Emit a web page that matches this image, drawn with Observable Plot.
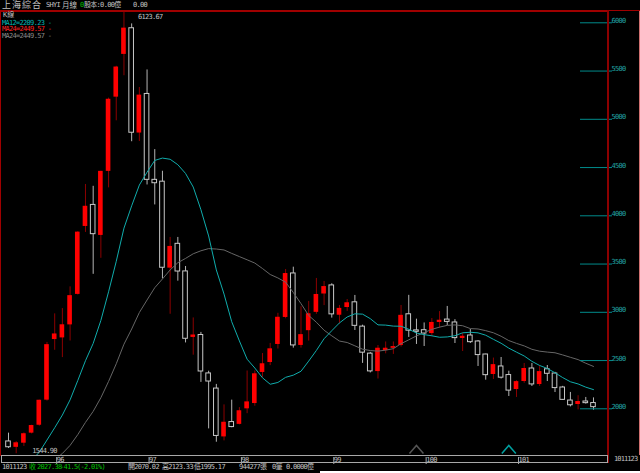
<!DOCTYPE html>
<html><head><meta charset="utf-8">
<script src="https://cdn.jsdelivr.net/npm/d3@7"></script>
<script src="https://cdn.jsdelivr.net/npm/@observablehq/plot@0.6"></script>
<style>
html,body{margin:0;padding:0;background:#000;width:640px;height:473px;overflow:hidden}
#wrap{position:relative;width:640px;height:473px;font-family:"DejaVu Sans Mono","Noto Sans CJK TC",monospace;}
.t{position:absolute;white-space:pre;font-size:7px;line-height:7px;letter-spacing:-0.7px;color:#c0c0c0}
#chart{position:absolute;left:0;top:10px}
#chart svg text{letter-spacing:-0.7px}
.deco{position:absolute}
</style></head><body><div id="wrap">
<div id="chart"></div>
<div class="deco" style="left:0;top:10px;width:640px;height:1px;background:#a00000"></div>
<div class="deco" style="left:607px;top:10px;width:2px;height:453px;background:#8c0000"></div>
<div class="deco" style="left:639px;top:11px;width:1px;height:444px;background:#d07070"></div>
<div class="deco" style="left:1px;top:455px;width:605px;height:6px;border:1px solid #a8a8a8"></div>
<div class="deco" style="left:320px;top:471px;width:320px;height:2px;background:#fff"></div>

<div class="t" style="left:2px;top:1px;font-size:9px;line-height:9px;letter-spacing:1px">上海綜合</div>
<div class="t" style="left:46px;top:2px">SHYI</div>
<div class="t" style="left:62px;top:1px;font-size:7.5px;line-height:9px;letter-spacing:0">月線</div>
<div class="t" style="left:80px;top:2px;color:#00c000">0</div>
<div class="t" style="left:84px;top:2px">股本:0.00億</div>
<div class="t" style="left:133px;top:2px">0.00</div>

<div class="t" style="left:3px;top:11.5px;font-size:7px;line-height:7px;letter-spacing:0">K線</div>
<div class="t" style="left:2px;top:19.5px;color:#00b4b4">MA12=2209.23 -</div>
<div class="t" style="left:2px;top:26px;color:#ff2020">MA24=2449.57 -</div>
<div class="t" style="left:2px;top:32.5px;color:#8a8a8a">MA24=2449.57 -</div>

<div class="t" style="left:614px;top:456px;letter-spacing:-0.9px">1011123</div>

<div class="t" style="left:2px;top:464px">1011123</div>
<div class="t" style="left:29px;top:464px;color:#00c000">收</div>
<div class="t" style="left:37px;top:464px;color:#00c000">2027.38</div>
<div class="t" style="left:60px;top:464px;color:#00c000">-41.5</div>
<div class="t" style="left:77px;top:464px;color:#00c000">(-2.01%)</div>
<div class="t" style="left:128px;top:464px">開2070.02</div>
<div class="t" style="left:162px;top:464px">高2123.33</div>
<div class="t" style="left:194px;top:464px">低1995.17</div>
<div class="t" style="left:239px;top:464px">944277張</div>
<div class="t" style="left:272px;top:464px">0筆</div>
<div class="t" style="left:286px;top:464px">0.0000億</div>
</div>
<script>
// Monthly OHLC, Shanghai Composite, 2006-07 .. 2012-11
const firstMonth = "2006-07";
const open = [1672,1611,1654,1758,1840,2100,2728,2745,2880,3196,
  3900,4123,3807,4471,5240,5683,5954,4868,5273,4383,
  4364,3468,3720,3434,2750,2775,2377,2220,1719,1873,
  1849,2010,2065,2387,2490,2677,2957,3413,2667,2820,
  3010,3200,3289,2980,3060,3114,2862,2582,2396,2614,
  2637,2666,2990,2823,2825,2790,2905,2935,2905,2739,
  2770,2708,2573,2366,2449,2360,2210,2293,2428,2262,
  2420,2376,2231,2096,2055,2086,2070.02];
const high = [1758,1670,1760,1840,2100,2698,2994,3049,3274,3845,
  4335,4316,4471,5230,5560,6123.67,5999,5340,5522,4696,
  4472,3786,3786,3485,2952,2802,2400,2263,2051,2100,
  2023,2402,2403,2583,2688,3000,3454,3478,3068,3123,
  3361,3330,3306,3081,3143,3185,2877,2595,2666,2703,
  2703,3081,3186,2939,2900,2946,3018,3071,2934,2792,
  2832,2718,2576,2536,2542,2400,2301,2480,2480,2454,
  2459,2388,2243,2180,2146,2128,2123.33];
const low = [1600,1544.9,1620,1750,1830,2090,2617,2541,2713,3190,
  3838,3404,3570,4300,4995,5462,4778,4780,4330,4123,
  3357,2990,3333,2693,2566,2284,1802,1664,1678,1814,
  1844,1960,2037,2336,2458,2630,2943,2639,2639,2712,
  2990,3080,2950,2890,3020,2822,2481,2382,2319,2580,
  2574,2650,2750,2677,2656,2760,2844,2873,2687,2604,
  2687,2449,2307,2314,2319,2138,2128,2275,2242,2242,
  2293,2179,2100,2030,1999,2059,1995.17];
const close = [1612,1658,1752,1837,2099,2675,2786,2881,3183,3841,
  4109,3820,4471,5218,5552,5955,4871,5261,4383,4348,
  3472,3693,3433,2736,2775,2397,2293,1729,1871,1821,
  1990,2082,2373,2477,2632,2959,3412,2667,2779,2995,
  3195,3277,2989,3051,3109,2870,2592,2398,2638,2638,
  2655,2979,2820,2808,2790,2905,2928,2911,2743,2762,
  2701,2567,2359,2468,2333,2199,2292,2428,2263,2396,
  2373,2225,2103,2047,2086,2069,2027.38];
// closes before the first visible month (2005-02 .. 2006-06), feeding the moving averages
const priorClose = [1306,1181,1159,1060,1080,1083,1162,1155,1092,1099,1161,
  1258,1299,1298,1440,1641,1672];
const yearLabels = ["96","97","98","99","100","101"];
const yTicks = [2000,2500,3000,3500,4000,4500,5000,5500,6000];
const crossGray = [53];
const crossTeal = [65];

const start = new Date(firstMonth + "-01T00:00:00Z");
const candles = close.map((c, i) => ({
  i, o: open[i], h: high[i], l: low[i], c,
  month: d3.utcMonth.offset(start, i),
  up: c >= open[i]
}));
const yearIdx = candles.filter(d => d.month.getUTCMonth() === 0).map(d => d.i);
const yearMap = new Map(yearIdx.map((v, k) => [v, yearLabels[k]]));
const series = priorClose.map((c, k) => ({i: k - priorClose.length, c}))
  .concat(candles.map(d => ({i: d.i, c: d.c})));
const up = candles.filter(d => d.up);
const down = candles.filter(d => !d.up);
const hi = candles[d3.maxIndex(candles, d => d.h)];
const lo = candles[d3.minIndex(candles, d => d.l)];
const caret = {draw(ctx, size) {
  const r = Math.sqrt(size / Math.PI);
  ctx.moveTo(-1.4 * r, 0.8 * r); ctx.lineTo(0, -0.8 * r); ctx.lineTo(1.4 * r, 0.8 * r);
}};
const hw = 0.3;

const chart = Plot.plot({
  width: 640, height: 453,
  marginTop: 1, marginBottom: 8, marginLeft: 0, marginRight: 32,
  style: {background: "#000", color: "#c0c0c0", fontFamily: "DejaVu Sans Mono", fontSize: "7px", overflow: "visible"},
  x: {type: "linear", domain: [-1.04, 77.95], label: null},
  y: {domain: [1526.4, 6127.5], label: null},
  marks: [
    Plot.frame({stroke: "#a00000"}),
    Plot.ruleX(up, {x: "i", y1: "l", y2: "h", stroke: "#8c0000"}),
    Plot.ruleX(down, {x: "i", y1: "l", y2: "h", stroke: "#b4b4b4"}),
    Plot.rect(up, {x1: d => d.i - hw, x2: d => d.i + hw, y1: "o", y2: "c", fill: "#ff0000"}),
    Plot.rect(down, {x1: d => d.i - hw, x2: d => d.i + hw, y1: "o", y2: "c", fill: "#000", stroke: "#c8c8c8"}),
    Plot.lineY(series, Plot.windowY({k: 24, anchor: "end"}, {x: "i", y: "c", stroke: "#666", strokeWidth: 1, clip: true})),
    Plot.lineY(series, Plot.windowY({k: 12, anchor: "end"}, {x: "i", y: "c", stroke: "#10acac", strokeWidth: 1, clip: true})),
    Plot.dot(crossGray, {x: d => d, frameAnchor: "bottom", dy: -6, r: 5, symbol: caret, stroke: "#555", fill: "none"}),
    Plot.dot(crossTeal, {x: d => d, frameAnchor: "bottom", dy: -6, r: 5, symbol: caret, stroke: "#00a0a0", fill: "none"}),
    Plot.text([hi], {x: "i", y: "h", text: d => d.h.toFixed(2), textAnchor: "start", lineAnchor: "top", dx: 14, dy: 2, fill: "#c0c0c0"}),
    Plot.text([lo], {x: "i", y: "l", text: d => d.l.toFixed(2), textAnchor: "start", lineAnchor: "bottom", dx: 16, dy: -1, fill: "#c0c0c0"}),
    Plot.axisY({anchor: "right", label: null, ticks: yTicks, tickFormat: d => String(d), tickSize: 32, tickPadding: 0,
      textAnchor: "start", lineAnchor: "bottom", dx: -29, dy: -1, stroke: "#008b8b", fill: "#22a4a4"}),
    Plot.axisX({anchor: "bottom", label: null, ticks: yearIdx, tickFormat: d => yearMap.get(d), tickSize: 7, tickPadding: -7,
      textAnchor: "start", lineAnchor: "top", dx: 2, dy: 2, stroke: "#a8a8a8", fill: "#c0c0c0"})
  ]
});
document.getElementById("chart").appendChild(chart);
</script>
</body></html>
